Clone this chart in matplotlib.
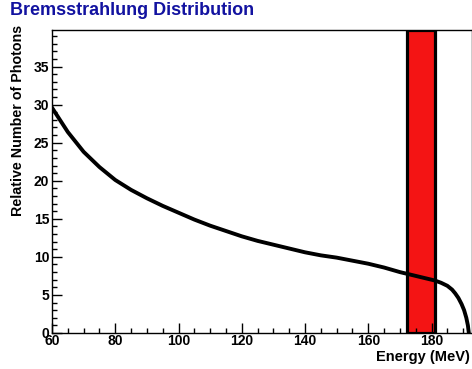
import matplotlib
matplotlib.use('Agg')
import matplotlib.pyplot as plt
from matplotlib.ticker import MultipleLocator

plt.rcParams['font.family'] = ['Liberation Sans', 'DejaVu Sans']
plt.rcParams['font.weight'] = 'bold'

# bremsstrahlung spectrum
energy = [60, 65, 70, 75, 80, 85, 90, 95, 100, 105, 110, 115, 120, 125, 130,
          135, 140, 145, 150, 155, 160, 165, 170, 175, 178, 181, 183, 185,
          186.5, 187.5, 188.5, 189.5, 190.3, 191, 191.5, 191.8]
photons = [29.6, 26.4, 23.8, 21.8, 20.1, 18.8, 17.7, 16.7, 15.8, 14.9, 14.1,
           13.4, 12.7, 12.1, 11.6, 11.1, 10.6, 10.2, 9.9, 9.5, 9.1, 8.6, 8.0,
           7.5, 7.2, 6.9, 6.6, 6.2, 5.7, 5.2, 4.6, 3.8, 3.0, 2.0, 1.0, 0.0]

# tagged energy window
window = (172.3, 181.2)

fig = plt.figure(figsize=(4.72, 3.69), dpi=100)
ax = fig.add_axes([52 / 472, 1 - 333 / 369, 420 / 472, 303 / 369])

ax.axvspan(window[0], window[1], facecolor='#f41414', edgecolor='black',
           linewidth=2.3, zorder=1)
ax.plot(energy, photons, color='black', linewidth=2.8, zorder=2,
        solid_joinstyle='round')

ax.set_xlim(60, 192.8)
ax.set_ylim(0, 39.8)
ax.xaxis.set_major_locator(MultipleLocator(20))
ax.xaxis.set_minor_locator(MultipleLocator(5))
ax.yaxis.set_major_locator(MultipleLocator(5))
ax.yaxis.set_minor_locator(MultipleLocator(1))
ax.set_yticks(range(0, 40, 5))

ax.tick_params(which='both', direction='in', top=False, right=False,
               labelsize=10, width=1)
ax.tick_params(which='major', length=7.5)
ax.tick_params(which='minor', length=3.8)
ax.tick_params(axis='x', pad=1)
ax.tick_params(axis='y', pad=2)
for lab in ax.get_xticklabels() + ax.get_yticklabels():
    lab.set_fontweight('bold')

for side in ['left', 'bottom', 'top', 'right']:
    ax.spines[side].set_linewidth(1)

fig.text(10 / 472, 1 - 15 / 369, 'Bremsstrahlung Distribution',
         color='#1212a0', fontsize=13, fontweight='bold', ha='left', va='baseline')
fig.text(18 / 472, 1 - 25 / 369, 'Relative Number of Photons',
         rotation=90, fontsize=10.3, fontweight='bold', ha='center', va='top')
fig.text(470 / 472, 1 - 357 / 369, 'Energy (MeV)',
         fontsize=10.5, fontweight='bold', ha='right', va='center')

fig.savefig('out.png', dpi=100)
